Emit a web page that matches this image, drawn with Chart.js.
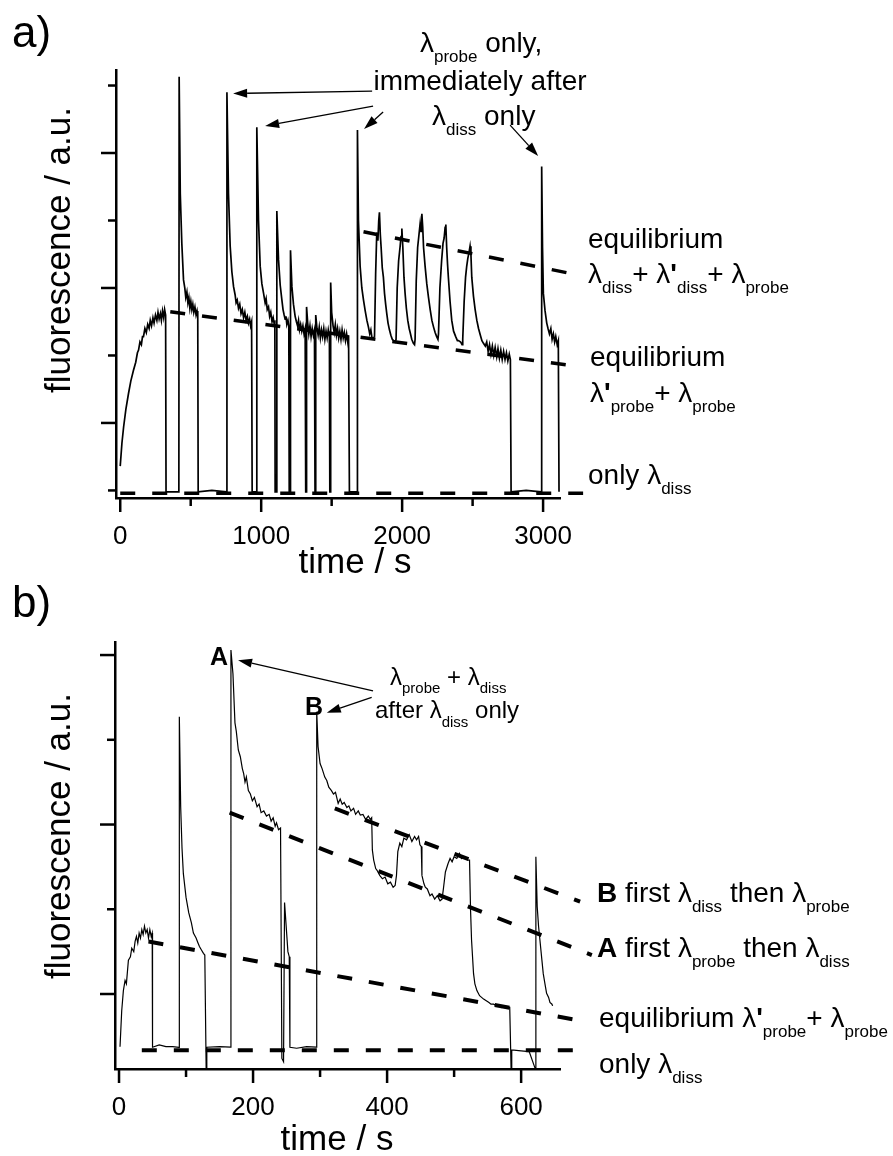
<!DOCTYPE html>
<html>
<head>
<meta charset="utf-8">
<script src="https://cdn.jsdelivr.net/npm/chart.js@4.4.0/dist/chart.umd.min.js"></script>
<style>
  html, body { margin: 0; padding: 0; background: #fff; }
  #wrap { position: relative; width: 893px; height: 1156px; overflow: hidden; }
  canvas { position: absolute; left: 0; }
  #chartA { top: 0; }
  #chartB { top: 580px; }
</style>
</head>
<body>
<div id="wrap">
  <canvas id="chartA" width="893" height="580"></canvas>
  <canvas id="chartB" width="893" height="576"></canvas>
</div>
<script>
// ---- panel a) : fluorescence trace, time in s ----
const timeA = [0,12,24,40,59,75,94,110,122,130,140,150,158,165,175,185,195,205,213,222,232,240,250,260,268,276,285,292,300,308,315,322,
  325,370,416,
  418,426,437,449,458,465,473,480,487,494,501,508,515,522,530,538,545,550,
  553,650,755,
  757,768,780,792,804,815,822,830,839,848,857,866,875,884,893,902,910,918,925,932,
  936,967,
  969,981,993,1005,1017,1028,1035,1043,1052,1060,1068,1077,1085,1093,1097,
  1099,1109,
  1111,1123,1135,1147,1155,1163,1170,1176,1182,1190,1196,
  1199,1206,
  1208,1218,1229,1241,1250,1258,1265,1272,1280,1288,1296,1304,1312,
  1316,1320,1322,1330,1338,1346,1354,1362,1370,1378,
  1382,1386,1388,1396,1404,1412,1420,1428,1436,1444,1452,1460,1468,1476,1484,
  1487,1491,1493,1500,1510,1518,1526,1534,1542,1550,1558,1566,1574,1582,1590,1598,1606,1614,1620,
  1626,1681,
  1683,1690,1702,1714,1726,1738,1750,1761,1770,1778,1786,1797,
  1804,1812,1820,1828,1834,1839,1845,1851,1859,1867,1875,1883,1891,1900,1910,1920,1930,1939,1950,
  1957,1965,1975,1986,1992,1998,2005,2013,2021,2030,2040,2050,2057,2068,2080,2088,
  2092,2100,2110,2120,2128,2134,2140,2146,2152,2163,2175,2187,2199,2211,2223,2234,2245,2254,
  2258,2268,2280,2290,2298,2305,2310,2316,2322,2328,2340,2352,2365,2380,2392,2400,2415,2425,
  2430,2440,2450,2458,2466,2474,2482,2488,2494,2506,2518,2530,2542,2555,2566,2577,2590,2600,2610,2620,2630,2640,2650,2660,2671,2680,2690,2700,2710,2720,2730,2740,2750,2760,2768,
  2773,2880,2988,
  2990,2996,3002,3014,3026,3035,3045,3055,3064,3073,3082,3090,3100,3108,
  3113];
const fluorA = [0.68,0.85,0.97,1.10,1.22,1.31,1.39,1.45,1.52,1.54,1.60,1.58,1.64,1.64,1.70,1.67,1.73,1.70,1.76,1.72,1.78,1.74,1.80,1.76,1.82,1.77,1.81,1.76,1.83,1.78,1.84,1.80,
  0.49,0.49,0.49,
  3.565,2.70,2.33,2.06,2.00,1.93,1.97,1.89,1.93,1.85,1.90,1.84,1.88,1.82,1.86,1.80,1.83,1.79,
  0.49,0.50,0.49,
  3.45,2.70,2.31,2.12,2.01,1.95,1.89,1.91,1.85,1.88,1.81,1.84,1.78,1.82,1.76,1.79,1.74,1.77,1.72,1.75,
  0.49,0.49,
  3.19,2.50,2.16,2.03,1.96,1.89,1.92,1.84,1.86,1.79,1.82,1.75,1.78,1.73,1.76,
  0.49,0.49,
  2.57,2.21,2.02,1.91,1.84,1.80,1.77,1.79,1.73,1.76,1.72,
  0.49,0.49,
  2.28,2.01,1.88,1.79,1.75,1.72,1.76,1.69,1.73,1.68,1.72,1.66,1.70,
  0.49,0.49,1.86,1.74,1.66,1.72,1.64,1.70,1.65,1.69,
  0.49,0.49,1.80,1.70,1.65,1.71,1.63,1.69,1.64,1.70,1.62,1.68,1.63,1.69,1.64,
  0.49,0.49,2.04,1.82,1.72,1.67,1.73,1.65,1.70,1.63,1.68,1.62,1.69,1.63,1.67,1.61,1.66,1.60,1.65,
  0.49,0.49,
  3.17,2.50,2.16,2.00,1.91,1.83,1.76,1.71,1.66,1.69,1.63,1.63,
  1.64,2.10,2.41,2.35,2.50,2.56,2.40,2.30,2.15,2.08,1.96,1.88,1.81,1.74,1.69,1.65,1.62,1.61,1.60,
  1.62,2.00,2.20,2.31,2.38,2.44,2.30,2.08,1.96,1.85,1.76,1.70,1.67,1.62,1.59,1.58,
  1.62,2.05,2.30,2.40,2.48,2.42,2.55,2.45,2.30,2.16,2.03,1.93,1.84,1.76,1.71,1.67,1.64,1.62,
  1.66,2.00,2.20,2.33,2.37,2.45,2.47,2.30,2.18,2.08,1.90,1.76,1.68,1.64,1.61,1.61,1.60,1.58,
  1.62,1.90,2.08,2.16,2.22,2.26,2.31,2.25,2.08,1.94,1.84,1.76,1.70,1.65,1.61,1.59,1.57,1.60,1.53,1.58,1.51,1.57,1.50,1.56,1.49,1.55,1.48,1.54,1.47,1.53,1.47,1.52,1.46,1.51,1.47,
  0.49,0.50,0.49,
  2.90,2.30,1.96,1.83,1.74,1.70,1.66,1.70,1.62,1.66,1.60,1.64,1.58,1.61,
  0.49];

// dashed guide lines of panel a)
const onlyDissA_t = [0, 3284];
const onlyDissA_y = [0.48, 0.48];
const eqProbeA_t = [355, 3227];
const eqProbeA_y = [1.824, 1.422];
const eqDissA_t = [1726, 3213];
const eqDissA_y = [2.417, 2.104];

// axis ticks of panel a)
const xMajorA = [0, 1000, 2000, 3000];
const xMinorA = [500, 1500, 2500];
const yMajorA = [1, 2, 3];
const yMinorA = [0.5, 1.5, 2.5, 3.5];

// ---- panel b) ----
const timeB = [1.5,4,6.5,9,11,14,17,19,22,24,26,28,30,32,34,36,38,40,42,44,46,48,49.5,
  50,60,70,80,89.5,
  90,92,94,96,100,104,108,111,115,118,120,123,126,128,
  130,131,150,166.5,
  167,170,173,175,178,181,184,186,188,190,193,196,199,202,206,209,212,216,220,224,227,230,233,235,238,241,
  243,245.5,247,252,254,255,265,280,294.5,
  295,297,300,303,307,310,313,317,320,323,327,330,333,336,340,343,346,350,353,357,360,364,368,372,375,377,
  378,380,383,385,389,393,397,401,405,409,412,
  414,416,419,422,425,429,433,437,441,444,447,449,451,
  452,455,457,460,464,467,471,475,479,482,
  484,487,491,494,497,500,504,508,511,514,518,521,523,
  524.5,526,529,531,534,538,541,544,548,552,555,559,563,567,571,575,579,583,
  585,586,600,612,621,
  622,624,626,628,631,633,636,638,641,643,646,647];
const fluorB = [0.689,0.90,1.02,1.08,1.06,1.20,1.22,1.27,1.25,1.31,1.34,1.30,1.36,1.33,1.38,1.35,1.40,1.36,1.38,1.33,1.38,1.34,1.36,
  0.686,0.70,0.69,0.69,0.685,
  2.636,2.105,1.86,1.71,1.57,1.48,1.42,1.36,1.33,1.30,1.28,1.26,1.24,1.23,
  0.56,0.686,0.69,0.686,
  3.03,2.89,2.60,2.55,2.44,2.40,2.33,2.30,2.25,2.28,2.20,2.18,2.14,2.16,2.105,2.12,2.07,2.08,2.05,2.06,2.02,2.04,1.99,2.01,1.97,1.98,
  0.62,0.60,1.54,1.25,1.22,0.686,0.68,0.69,0.686,
  2.665,2.46,2.36,2.33,2.28,2.26,2.22,2.20,2.18,2.19,2.125,2.15,2.12,2.13,2.10,2.11,2.08,2.095,2.06,2.08,2.056,2.06,2.03,2.05,2.03,2.04,
  1.85,1.79,1.74,1.73,1.70,1.68,1.69,1.65,1.66,1.63,1.64,
  1.70,1.84,1.89,1.87,1.92,1.91,1.94,1.90,1.93,1.91,1.93,1.88,1.87,
  1.70,1.65,1.63,1.62,1.58,1.59,1.56,1.58,1.55,1.56,
  1.62,1.72,1.77,1.80,1.78,1.81,1.80,1.83,1.80,1.81,1.80,1.79,1.79,
  1.50,1.32,1.12,1.06,1.02,0.99,0.98,0.97,0.96,0.95,0.94,0.94,0.93,0.935,0.92,0.925,0.915,0.92,
  0.56,0.67,0.665,0.66,0.56,
  1.81,1.515,1.40,1.32,1.20,1.12,1.05,1.004,0.98,0.95,0.94,0.93];

const onlyDissB_t = [34, 688];
const onlyDissB_y = [0.668, 0.668];
const eqProbeB_t = [44, 696];
const eqProbeB_y = [1.31, 0.837];
const lineA_t = [165, 705.5];
const lineA_y = [2.07, 1.23];
const lineB_t = [322, 688];
const lineB_y = [2.095, 1.545];

const xMajorB = [0, 200, 400, 600];
const xMinorB = [100, 300, 500];
const yMajorB = [1, 2, 3];
const yMinorB = [1.5, 2.5];

// arrows in data units: [fromT, fromY, toT, toY]
const arrowsA = [[1787,3.459,801,3.441],[1794,3.348,1028,3.2],[1865,3.304,1730,3.178],[2766,3.207,2965,2.978]];
const arrowsB = [[379,2.789,177.6,2.97],[377,2.75,310,2.66]];

const FAM = '"Liberation Sans", Arial, Helvetica, sans-serif';
Chart.defaults.font.family = FAM;
Chart.defaults.color = "#000";

const pts = (xs, ys)=>xs.map((x,i)=>({x, y: ys[i]}));

function drawRich(ctx, x, y, parts, o){
  const size = o.size || 28, sub = o.sub || 17, dy = o.dy || 10;
  let w = 0;
  const items = parts.map(p=>{
    const isSub = p[1] === "s", bold = p[1] === "b";
    const f = (bold ? "bold " : "") + (isSub ? sub : size) + "px " + FAM;
    ctx.font = f;
    const it = {t: p[0], f, isSub, x: w};
    w += ctx.measureText(p[0]).width;
    return it;
  });
  const x0 = o.align === "center" ? x - w/2 : x;
  ctx.textAlign = "left";
  ctx.textBaseline = "alphabetic";
  ctx.fillStyle = "#000";
  items.forEach(it=>{
    ctx.font = it.f;
    ctx.fillText(it.t, x0 + it.x, y + (it.isSub ? dy : 0));
  });
}

function arrow(ctx, x1, y1, x2, y2){
  const a = Math.atan2(y2 - y1, x2 - x1), L = 14, H = 4.5;
  const bx = x2 - L*Math.cos(a), by = y2 - L*Math.sin(a);
  ctx.beginPath(); ctx.moveTo(x1, y1); ctx.lineTo(bx, by); ctx.stroke();
  ctx.beginPath();
  ctx.moveTo(x2, y2);
  ctx.lineTo(bx + H*Math.sin(a), by - H*Math.cos(a));
  ctx.lineTo(bx - H*Math.sin(a), by + H*Math.cos(a));
  ctx.closePath(); ctx.fill();
}

// tick marks, arrows and the annotation text
const decor = {
  id: "decor",
  afterDraw(chart, args, opt){
    const {ctx, scales: {x, y}} = chart;
    ctx.save();
    ctx.strokeStyle = "#000"; ctx.fillStyle = "#000";
    ctx.lineWidth = 2.5; ctx.lineCap = "butt";
    const xb = y.getPixelForValue(y.min), yl = x.getPixelForValue(x.min);
    const tick = (x1,y1,x2,y2)=>{ ctx.beginPath(); ctx.moveTo(x1,y1); ctx.lineTo(x2,y2); ctx.stroke(); };
    opt.xMajor.forEach(v=>{ const p = x.getPixelForValue(v); tick(p, xb, p, xb + 14); });
    opt.xMinor.forEach(v=>{ const p = x.getPixelForValue(v); tick(p, xb, p, xb + 8); });
    opt.yMajor.forEach(v=>{ const p = y.getPixelForValue(v); tick(yl, p, yl - 15, p); });
    opt.yMinor.forEach(v=>{ const p = y.getPixelForValue(v); tick(yl, p, yl - 8, p); });

    ctx.lineWidth = 1.3;
    opt.arrows.forEach(a=>arrow(ctx, x.getPixelForValue(a[0]), y.getPixelForValue(a[1]),
                                     x.getPixelForValue(a[2]), y.getPixelForValue(a[3])));

    opt.labels.forEach(l=>drawRich(ctx, l.x, l.y, l.parts, l));

    // axis titles
    ctx.font = "35px " + FAM;
    ctx.textAlign = "center"; ctx.textBaseline = "alphabetic";
    ctx.fillText("time / s", opt.xTitle[0], opt.xTitle[1]);
    ctx.translate(opt.yTitle[0], opt.yTitle[1]);
    ctx.rotate(-Math.PI/2);
    ctx.fillText("fluorescence / a.u.", 0, 0);
    ctx.restore();
  }
};

function makeChart(id, cfg){
  const dash = (xs, ys, w)=>({data: pts(xs, ys), borderColor: "#000", borderWidth: w,
    borderDash: [15, 17], pointRadius: 0, clip: false, order: 0});
  return new Chart(document.getElementById(id), {
    type: "line",
    data: {
      datasets: [
        ...cfg.guides.map(g=>dash(g[0], g[1], cfg.dashW)),
        {data: pts(cfg.t, cfg.f), borderColor: "#000", borderWidth: cfg.traceW,
          pointRadius: 0, tension: 0, order: 1}
      ]
    },
    options: {
      responsive: false, animation: false, devicePixelRatio: 1,
      layout: {padding: {left: 0, right: cfg.padRight, top: cfg.padTop, bottom: 0}},
      plugins: {legend: {display: false}, tooltip: {enabled: false}, decor: cfg.decor},
      scales: {
        x: {
          type: "linear", min: cfg.xMin, max: cfg.xMax,
          grid: {display: false, drawTicks: false},
          border: {display: true, color: "#000", width: 2.5},
          afterBuildTicks: s=>{ s.ticks = cfg.decor.xMajor.map(v=>({value: v})); },
          afterFit: s=>{ s.height = cfg.xH; },
          ticks: {autoSkip: false, maxRotation: 0, padding: 23, font: {size: 26}, color: "#000",
            callback: v=>String(v)}
        },
        y: {
          type: "linear", min: cfg.yMin, max: cfg.yMax,
          grid: {display: false, drawTicks: false},
          border: {display: true, color: "#000", width: 2.5},
          ticks: {display: false},
          afterFit: s=>{ s.width = cfg.yW; }
        }
      }
    },
    plugins: [decor]
  });
}

makeChart("chartA", {
  t: timeA, f: fluorA, traceW: 1.7, dashW: 3.5,
  guides: [[onlyDissA_t, onlyDissA_y], [eqProbeA_t, eqProbeA_y], [eqDissA_t, eqDissA_y]],
  xMin: -30, xMax: 3120, yMin: 0.444, yMax: 3.615,
  padRight: 333, padTop: 70, xH: 82, yW: 116,
  decor: {
    xMajor: xMajorA, xMinor: xMinorA, yMajor: yMajorA, yMinor: yMinorA,
    arrows: arrowsA, xTitle: [355, 573], yTitle: [70, 250],
    labels: [
      {x: 12, y: 47, size: 44, parts: [["a)"]]},
      {x: 420, y: 52, parts: [["λ"], ["probe","s"], [" only,"]]},
      {x: 480, y: 90, align: "center", parts: [["immediately after"]]},
      {x: 432, y: 125, parts: [["λ"], ["diss","s"], [" only"]]},
      {x: 588, y: 248, parts: [["equilibrium"]]},
      {x: 588, y: 283, parts: [["λ"], ["diss","s"], ["+ λ"], ["'","b"], ["diss","s"], ["+ λ"], ["probe","s"]]},
      {x: 590, y: 366, parts: [["equilibrium"]]},
      {x: 590, y: 402, parts: [["λ"], ["'","b"], ["probe","s"], ["+ λ"], ["probe","s"]]},
      {x: 588, y: 484, parts: [["only λ"], ["diss","s"]]}
    ]
  }
});

makeChart("chartB", {
  t: timeB, f: fluorB, traceW: 1.2, dashW: 4,
  guides: [[onlyDissB_t, onlyDissB_y], [eqProbeB_t, eqProbeB_y], [lineA_t, lineA_y], [lineB_t, lineB_y]],
  xMin: -6, xMax: 658, yMin: 0.5575, yMax: 3.077,
  padRight: 333, padTop: 62, xH: 87, yW: 115,
  decor: {
    xMajor: xMajorB, xMinor: xMinorB, yMajor: yMajorB, yMinor: yMinorB,
    arrows: arrowsB, xTitle: [337, 570], yTitle: [70, 256],
    labels: [
      {x: 12, y: 37, size: 44, parts: [["b)"]]},
      {x: 210, y: 85, size: 25, parts: [["A","b"]]},
      {x: 305, y: 135, size: 25, parts: [["B","b"]]},
      {x: 390, y: 105, size: 24, sub: 15, dy: 8, parts: [["λ"], ["probe","s"], [" + λ"], ["diss","s"]]},
      {x: 375, y: 138, size: 24, sub: 15, dy: 9, parts: [["after λ"], ["diss","s"], [" only"]]},
      {x: 597, y: 322, parts: [["B","b"], [" first λ"], ["diss","s"], [" then λ"], ["probe","s"]]},
      {x: 597, y: 377, parts: [["A","b"], [" first λ"], ["probe","s"], [" then λ"], ["diss","s"]]},
      {x: 599, y: 447, parts: [["equilibrium λ"], ["'","b"], ["probe","s"], ["+ λ"], ["probe","s"]]},
      {x: 599, y: 493, parts: [["only λ"], ["diss","s"]]}
    ]
  }
});
</script>
</body>
</html>
